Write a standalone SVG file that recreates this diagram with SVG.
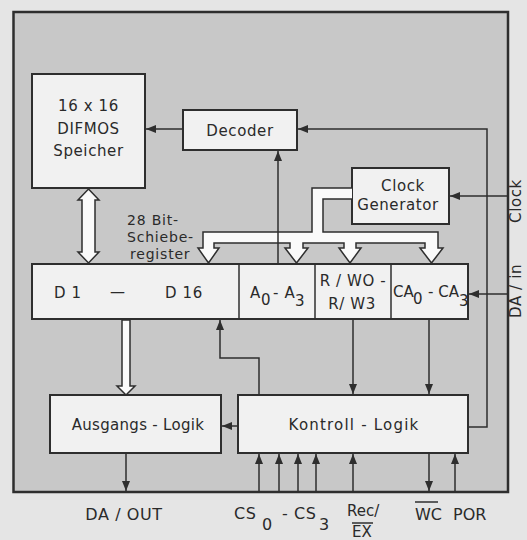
<svg xmlns="http://www.w3.org/2000/svg" width="527" height="540" viewBox="0 0 527 540">
<defs>
<marker id="ah" markerUnits="userSpaceOnUse" markerWidth="10" markerHeight="8" refX="10" refY="4" orient="auto">
<path d="M0,0 L10,4 L0,8 z" fill="#2e2e2e"/>
</marker>
</defs>
<style>
.bg{fill:#e5e5e5}
.frame{fill:#c8c8c8;stroke:#2e2e2e;stroke-width:2.5}
.box{fill:#f1f1f1;stroke:#2e2e2e;stroke-width:2}
.ln{fill:none;stroke:#2e2e2e;stroke-width:1.5}
.arr{fill:none;stroke:#2e2e2e;stroke-width:1.5;marker-end:url(#ah)}
.hol{fill:#fafafa;stroke:#2e2e2e;stroke-width:1.5;stroke-linejoin:miter}
text{font-family:"DejaVu Sans","Liberation Sans",sans-serif;font-size:15px;fill:#2a2a2a;letter-spacing:0.6px}
.c{text-anchor:middle}
.b{font-size:16px}
.s{font-size:14px;letter-spacing:0.8px}
</style>
<rect class="bg" x="0" y="0" width="527" height="540"/>
<rect class="frame" x="13.5" y="12" width="494.5" height="480"/>

<g id="speicher">
<rect class="box" x="32" y="74" width="113" height="114"/>
<text class="c" x="88.5" y="111">16 x 16</text>
<text class="c" x="88.5" y="134">DIFMOS</text>
<text class="c" x="88.5" y="156">Speicher</text>
</g>

<g id="decoder">
<rect class="box" x="183" y="110" width="114" height="40"/>
<text class="c" x="240" y="136">Decoder</text>
</g>

<g id="clock-generator">
<rect class="box" x="352" y="168" width="97" height="56"/>
<text class="c" x="403" y="191">Clock</text>
<text class="c" x="398" y="210">Generator</text>
</g>

<g id="register-label">
<text class="s" x="127" y="225">28  Bit-</text>
<text class="s" x="127" y="242">Schiebe-</text>
<text class="s" x="130" y="259">register</text>
</g>

<g id="schieberegister">
<rect class="box" x="32" y="264" width="436" height="55"/>
<line class="ln" x1="239" y1="264" x2="239" y2="319"/>
<line class="ln" x1="315" y1="264" x2="315" y2="319"/>
<line class="ln" x1="391" y1="264" x2="391" y2="319"/>
<text x="54" y="298">D 1</text>
<text x="110" y="297">—</text>
<text x="165" y="298">D 16</text>
<text x="250" y="298">A</text>
<text x="261" y="305">0</text>
<text x="273" y="298">- A</text>
<text x="295" y="306">3</text>
<text class="c" x="353" y="286">R / WO -</text>
<text class="c" x="352" y="309">R/ W3</text>
<text x="393" y="297" style="letter-spacing:0">CA</text>
<text x="413" y="304" style="letter-spacing:0">0</text>
<text x="428" y="297" style="letter-spacing:0">- CA</text>
<text x="459" y="306" style="letter-spacing:0">3</text>
</g>

<g id="ausgangs-logik">
<rect class="box" x="50" y="395" width="171" height="58"/>
<text class="c" x="138" y="430" style="letter-spacing:0.3px">Ausgangs - Logik</text>
</g>

<g id="kontroll-logik">
<rect class="box" x="238" y="395" width="230" height="58"/>
<text class="c" x="354" y="430" style="letter-spacing:1.2px">Kontroll - Logik</text>
</g>

<g id="connectors">
<path class="hol" d="M88.5,189 L99,200 L95,200 L95,252 L99,252 L88.5,263 L78,252 L82,252 L82,200 L78,200 Z"/>
<path class="hol" d="M352,188 L312,188 L312,232 L203,232 L203,248 L198,248 L208.5,263 L219,248 L214,248 L214,243 L290,243 L290,248 L285,248 L296.5,263 L308,248 L303,248 L303,243 L344,243 L344,248 L339,248 L350,263 L361,248 L356,248 L356,243 L425,243 L425,248 L420,248 L431.5,263 L443,248 L438,248 L438,232 L323,232 L323,199 L352,199"/>
<path class="hol" d="M122,320 L130,320 L130,386 L135,386 L126,395 L117,386 L122,386 Z"/>
<path class="arr" d="M183,129 H146"/>
<path class="arr" d="M278,264 V151"/>
<path class="arr" d="M468,427 H487 V129 H298"/>
<path class="arr" d="M508,196 H450"/>
<path class="arr" d="M508,294 H469"/>
<path class="arr" d="M353,319 V394"/>
<path class="arr" d="M429,319 V394"/>
<path class="arr" d="M259,395 V358 H220 V320"/>
<path class="arr" d="M238,426 H222"/>
<path class="arr" d="M259,492 V454"/>
<path class="arr" d="M279,492 V454"/>
<path class="arr" d="M298,492 V454"/>
<path class="arr" d="M316,492 V454"/>
<path class="arr" d="M353,492 V454"/>
<path class="arr" d="M455,492 V454"/>
<path class="arr" d="M429,453 V491"/>
<path class="arr" d="M126,453 V491"/>
</g>

<g id="labels">
<text class="b c" x="124" y="520">DA / OUT</text>
<text class="b" x="234" y="519">CS</text>
<text class="b" x="262" y="530">0</text>
<text class="b" x="282" y="519">- CS</text>
<text class="b" x="319" y="530">3</text>
<text x="347" y="516" style="letter-spacing:0">Rec/</text>
<text x="352" y="537" style="letter-spacing:0">EX</text>
<line class="ln" x1="352" y1="523" x2="373" y2="523"/>
<text class="b" x="415" y="520" style="letter-spacing:0">WC</text>
<line class="ln" x1="415" y1="502" x2="438" y2="502"/>
<text class="b" x="453" y="520" style="letter-spacing:0">POR</text>
<text class="c" transform="translate(521,201) rotate(-90)">Clock</text>
<text class="c" transform="translate(521,291) rotate(-90)">DA / in</text>
</g>
</svg>
